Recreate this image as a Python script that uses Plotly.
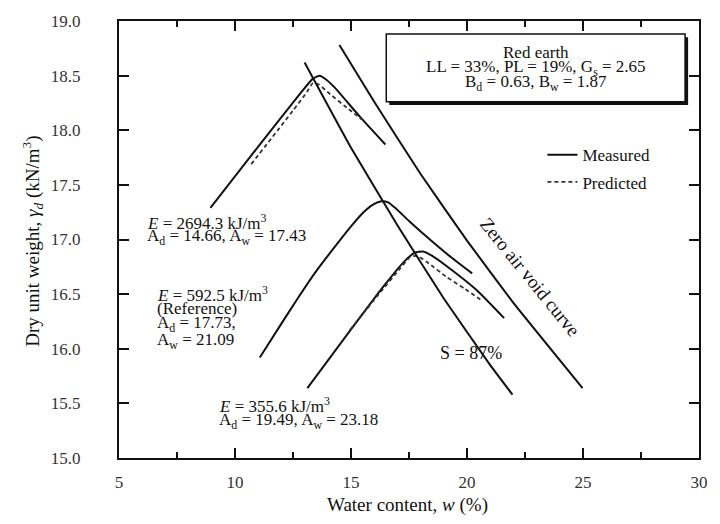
import plotly.graph_objects as go

# Compaction curves for red earth: water content (%) vs dry unit weight (kN/m^3)
# E = 2694.3 kJ/m^3
w_e2694_meas = [8.94, 11.0, 12.9, 13.35, 13.65, 13.95, 14.3, 15.4, 16.48]
g_e2694_meas = [17.29, 17.85, 18.36, 18.47, 18.50, 18.46, 18.39, 18.12, 17.87]
w_e2694_pred = [10.7, 12.5, 13.1, 13.35, 13.6, 14.1, 14.8, 15.45]
g_e2694_pred = [17.69, 18.18, 18.35, 18.43, 18.42, 18.33, 18.21, 18.10]

# E = 592.5 kJ/m^3 (reference energy)
w_e592_meas = [11.07, 12.0, 12.7, 13.5, 14.4, 15.0, 15.54, 15.95, 16.31, 16.6, 16.9, 17.5, 18.4, 19.3, 20.22]
g_e592_meas = [15.92, 16.23, 16.46, 16.71, 16.96, 17.12, 17.25, 17.32, 17.35, 17.34, 17.29, 17.17, 17.00, 16.84, 16.69]

# E = 355.6 kJ/m^3
w_e355_meas = [13.12, 14.8, 16.4, 17.3, 17.75, 18.1, 18.5, 19.1, 20.4, 21.6]
g_e355_meas = [15.64, 16.12, 16.57, 16.80, 16.88, 16.89, 16.85, 16.76, 16.54, 16.28]
w_e355_pred = [14.95, 16.2, 17.1, 17.55, 17.85, 18.3, 19.1, 19.9, 20.65]
g_e355_pred = [16.17, 16.50, 16.73, 16.84, 16.85, 16.79, 16.66, 16.55, 16.44]

# Saturation lines
w_s87 = [13.0, 15.0, 17.0, 19.0, 21.0, 21.96]
g_s87 = [18.62, 17.84, 17.13, 16.46, 15.85, 15.58]
w_zav = [14.5, 16.0, 18.0, 20.0, 22.0, 24.98]
g_zav = [18.78, 18.26, 17.60, 16.99, 16.42, 15.64]

x_ticks = [5, 10, 15, 20, 25, 30]
y_ticks = [15.0, 15.5, 16.0, 16.5, 17.0, 17.5, 18.0, 18.5, 19.0]

FONT = "Liberation Serif, Times New Roman, serif"
BLACK = "#111111"
Y_RANGE = [15, 19]

fig = go.Figure()

def solid(w, g, show=False):
    fig.add_trace(go.Scatter(
        x=w, y=g, mode="lines", name="Measured", showlegend=show,
        legendgroup="meas",
        line=dict(color=BLACK, width=2, shape="spline", smoothing=0.5)))

def dashed(w, g, show=False):
    fig.add_trace(go.Scatter(
        x=w, y=g, mode="lines", name="Predicted", showlegend=show,
        legendgroup="pred",
        line=dict(color="#333333", width=1.8, dash="4px,3px", shape="spline", smoothing=0.5)))

solid(w_e2694_meas, g_e2694_meas, show=True)
dashed(w_e2694_pred, g_e2694_pred, show=True)
solid(w_e592_meas, g_e592_meas)
solid(w_e355_meas, g_e355_meas)
dashed(w_e355_pred, g_e355_pred)

# saturation lines; the S = 87% line is bound to the labelled overlay axis
fig.add_trace(go.Scatter(x=w_s87, y=g_s87, mode="lines", name="S = 87%", showlegend=False,
                         yaxis="y2",
                         line=dict(color=BLACK, width=2, shape="spline", smoothing=0.3)))
fig.add_trace(go.Scatter(x=w_zav, y=g_zav, mode="lines", name="Zero air void curve",
                         showlegend=False,
                         line=dict(color=BLACK, width=2, shape="spline", smoothing=0.3)))

# Soil property box with drop shadow
fig.add_shape(type="rect", xref="x", yref="y", x0=16.65, x1=29.53, y0=18.232, y1=18.852,
              fillcolor="#111111", line=dict(width=0), layer="above")
fig.add_shape(type="rect", xref="x", yref="y", x0=16.52, x1=29.40, y0=18.26, y1=18.88,
              fillcolor="white", line=dict(color=BLACK, width=1.5), layer="above")

ann = []
def txt(x, y, s, anchor="left", size=17, angle=0):
    ann.append(dict(x=x, y=y, xref="x", yref="y", text=s, showarrow=False,
                    xanchor=anchor, yanchor="middle", textangle=angle,
                    font=dict(family=FONT, size=size, color=BLACK)))

txt(22.98, 18.71, "Red earth", "center")
txt(22.98, 18.57, "LL = 33%, PL = 19%, G<sub>s</sub> = 2.65", "center")
txt(22.98, 18.43, "B<sub>d</sub> = 0.63, B<sub>w</sub> = 1.87", "center")

txt(6.10, 17.164, "<i>E</i> = 2694.3 kJ/m<sup>3</sup>")
txt(6.10, 17.027, "A<sub>d</sub> = 14.66, A<sub>w</sub> = 17.43")

txt(6.53, 16.50, "<i>E</i> = 592.5 kJ/m<sup>3</sup>")
txt(6.53, 16.364, "(Reference)")
txt(6.53, 16.227, "A<sub>d</sub> = 17.73,")
txt(6.53, 16.073, "A<sub>w</sub> = 21.09")

txt(9.21, 15.482, "<i>E</i> = 355.6 kJ/m<sup>3</sup>")
txt(9.21, 15.336, "A<sub>d</sub> = 19.49, A<sub>w</sub> = 23.18")

txt(18.73, 15.964, "S = 87%", size=18)
txt(22.70, 16.66, "Zero air void curve", "center", size=19, angle=51)

# Axis titles
ann.append(dict(x=-0.148, y=0.495, xref="paper", yref="paper", showarrow=False,
                text="Dry unit weight, <i>γ<sub>d</sub></i> (kN/m<sup>3</sup>)",
                textangle=-90, xanchor="center", yanchor="middle",
                font=dict(family=FONT, size=19, color=BLACK)))
ann.append(dict(x=0.498, y=-0.107, xref="paper", yref="paper", showarrow=False,
                text="Water content, <i>w</i> (%)", xanchor="center", yanchor="middle",
                font=dict(family=FONT, size=19, color=BLACK)))

tickfont = dict(family=FONT, size=17, color="#333333")
axis_common = dict(showgrid=False, zeroline=False, showline=True, linecolor=BLACK,
                   linewidth=2, mirror="ticks", ticks="inside", tickcolor=BLACK,
                   tickwidth=1.5, ticklen=10)

fig.update_layout(
    width=720, height=524,
    margin=dict(l=119, r=13, t=18, b=66),
    paper_bgcolor="white", plot_bgcolor="white",
    xaxis=dict(range=[5, 30], tickvals=x_ticks, ticktext=[str(v) for v in x_ticks],
               minor=dict(tickvals=[7.5, 12.5, 17.5, 22.5, 27.5], ticks="inside",
                          ticklen=6, tickcolor=BLACK, tickwidth=1.5),
               ticklabelstandoff=8, tickfont=tickfont, **axis_common),
    # frame and inward ticks
    yaxis=dict(range=Y_RANGE, tickvals=y_ticks, showticklabels=False, **axis_common),
    # labels set away from the frame
    yaxis2=dict(range=Y_RANGE, overlaying="y", side="left", anchor="x",
                tickvals=y_ticks, ticktext=[f"{v:.1f}" for v in y_ticks],
                ticks="outside", ticklen=34, tickcolor="rgba(0,0,0,0)",
                showline=False, showgrid=False, zeroline=False, tickfont=tickfont),
    legend=dict(x=0.73, y=0.734, xanchor="left", yanchor="top",
                bgcolor="rgba(0,0,0,0)", font=dict(family=FONT, size=17, color=BLACK),
                tracegroupgap=2),
    annotations=ann,
)

fig.write_html("out.html")
